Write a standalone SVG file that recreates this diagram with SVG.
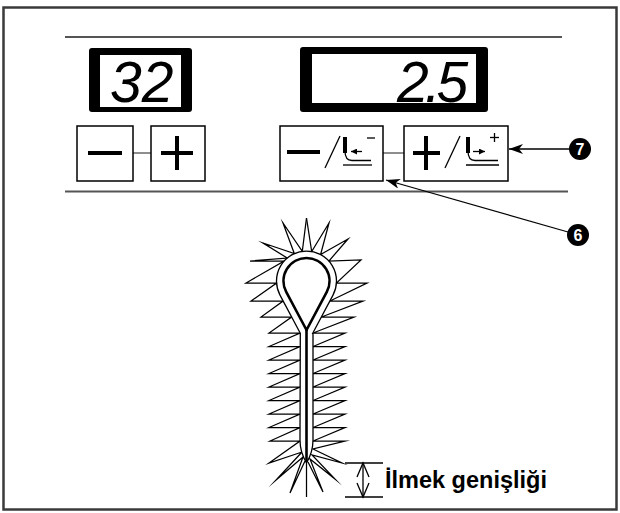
<svg xmlns="http://www.w3.org/2000/svg" width="620" height="513" viewBox="0 0 620 513">
  <defs>
    <marker id="ah" viewBox="0 0 14 10" refX="14" refY="5" markerWidth="14" markerHeight="10" markerUnits="userSpaceOnUse" orient="auto">
      <path d="M14,5 L0,0 L4,5 L0,10 Z" fill="#000"/>
    </marker>
    <marker id="ahs" viewBox="0 0 6 6" refX="6" refY="3" markerWidth="6" markerHeight="6" markerUnits="userSpaceOnUse" orient="auto">
      <path d="M6,3 L0,0 L0,6 Z" fill="#000"/>
    </marker>
  </defs>
  <style>
    .frame { fill: none; stroke: #3a3a3a; stroke-width: 2.5; }
    .rule { stroke: #555; stroke-width: 2; }
    .lcd { fill: #000; }
    .win { fill: #fff; }
    .seg { font-family: "Liberation Sans", Arial, sans-serif; font-style: italic; font-size: 57px; fill: #000; }
    .btn { fill: #fff; stroke: #000; stroke-width: 1.5; }
    .bar { stroke: #000; stroke-width: 4; stroke-linecap: butt; fill: none; }
    .thin { stroke: #000; stroke-width: 1.3; fill: none; }
    .link { stroke: #444; stroke-width: 1.2; }
    .stitch { fill: none; stroke: #000; stroke-width: 1.25; stroke-linejoin: miter; stroke-miterlimit: 20; }
    .lead { stroke: #000; stroke-width: 1.3; fill: none; }
    .badge { fill: #000; }
    .num { font-family: "Liberation Sans", Arial, sans-serif; font-weight: bold; font-size: 16px; fill: #fff; text-anchor: middle; }
    .label { font-family: "Liberation Sans", Arial, sans-serif; font-weight: bold; font-size: 23.5px; fill: #000; }
  </style>

  <rect class="frame" x="3.5" y="7.5" width="613" height="502"/>

  <!-- panel rules -->
  <line class="rule" x1="65" y1="37" x2="562" y2="37"/>
  <line class="rule" x1="65" y1="191.5" x2="568" y2="191.5"/>

  <!-- left display: pattern number -->
  <g id="display-pattern">
    <rect class="lcd" x="89" y="48" width="103" height="64" rx="3"/>
    <rect class="win" x="100" y="55" width="81" height="52"/>
    <text class="seg" x="110" y="102">32</text>
  </g>

  <!-- right display: value -->
  <g id="display-value">
    <rect class="lcd" x="300" y="47" width="188" height="65" rx="3"/>
    <rect class="win" x="312" y="54" width="164" height="49"/>
    <text class="seg" x="397" y="102" letter-spacing="-4">2.5</text>
  </g>

  <!-- connectors between keys -->
  <g id="connectors">
    <line class="link" x1="133" y1="153" x2="151" y2="153"/>
    <line class="link" x1="383" y1="153" x2="404" y2="153"/>
    <line class="lead" x1="569" y1="149" x2="509" y2="149" marker-end="url(#ah)"/>
    <line class="lead" x1="568" y1="232" x2="386" y2="180" marker-end="url(#ah)"/>
  </g>

  <!-- pattern keys -->
  <g id="key-minus">
    <rect class="btn" x="77" y="126" width="56" height="55"/>
    <line class="bar" x1="88" y1="153" x2="122" y2="153"/>
  </g>
  <g id="key-plus">
    <rect class="btn" x="151" y="126" width="54" height="55"/>
    <line class="bar" x1="161" y1="153" x2="193" y2="153"/>
    <line class="bar" x1="177" y1="136" x2="177" y2="170"/>
  </g>

  <!-- value keys -->
  <g id="key-minus-width">
    <rect class="btn" x="280" y="126" width="103" height="55"/>
    <line class="bar" x1="287" y1="152" x2="320" y2="152"/>
    <line class="thin" x1="325" y1="168" x2="340" y2="136" stroke-width="1.8"/>
    <line class="bar" x1="345" y1="137" x2="345" y2="153"/>
    <path class="thin" d="M345,151 Q345,160.5 352,160.5 L371,160.5"/>
    <line class="thin" x1="343" y1="165" x2="372" y2="165"/>
    <line class="thin" x1="362" y1="151.5" x2="351" y2="151.5" stroke-width="2.4" marker-end="url(#ahs)"/>
    <line class="thin" x1="367" y1="138" x2="375" y2="138" stroke-width="2.2"/>
  </g>
  <g id="key-plus-width">
    <rect class="btn" x="404" y="126" width="104" height="55"/>
    <line class="bar" x1="413" y1="153" x2="440" y2="153"/>
    <line class="bar" x1="426" y1="136" x2="426" y2="170"/>
    <line class="thin" x1="445" y1="168" x2="460" y2="136" stroke-width="1.8"/>
    <line class="bar" x1="468" y1="137" x2="468" y2="153"/>
    <path class="thin" d="M468,151 Q468,160.5 475,160.5 L498,160.5"/>
    <line class="thin" x1="466" y1="165" x2="499" y2="165"/>
    <line class="thin" x1="473" y1="151.5" x2="485" y2="151.5" stroke-width="2.4" marker-end="url(#ahs)"/>
    <line class="thin" x1="490" y1="137.5" x2="499" y2="137.5" stroke-width="2.2"/>
    <line class="thin" x1="494.5" y1="133" x2="494.5" y2="142" stroke-width="2.2"/>
  </g>

  <!-- callout badges -->
  <g id="badge-7">
    <circle class="badge" cx="580" cy="149" r="11"/>
    <text class="num" x="580" y="154.8">7</text>
  </g>
  <g id="badge-6">
    <circle class="badge" cx="578" cy="235" r="11"/>
    <text class="num" x="578" y="240.8">6</text>
  </g>

  <!-- keyhole buttonhole stitch -->
  <g id="buttonhole">
    <!-- stitch rows, left and right halves -->
    <polyline class="stitch" points="306.5,218 302.3,251.3 283,223 294.3,253.6 263,243 287.2,258 250,261 284.1,261 246,283 276.6,283 251,301 283.1,301 261,317 291.6,317 269,333 300,333 269,346.5 300,346.5 269,360 300,360 269,373.5 300,373.5 269,387 300,387 269,400.5 300,400.5 269,414 300,414 269,427.5 300,427.5 270,441 300,441 269,463 302,452 276,480 303,457 290,493 305,461"/>
    <polyline class="stitch" points="306.5,218 311.7,251.5 329,223 320.6,254.5 348,239 328.9,261 361,260 336.4,283 367,283 329.9,301 363,301 321.4,317 354,317 313,333 345,333 313,346.5 345,346.5 313,360 345,360 313,373.5 345,373.5 313,387 345,387 313,400.5 345,400.5 313,414 345,414 313,427.5 345,427.5 313,441 345,441 313,449 342,463 312,455 335,479 310,459 323,492 308,462"/>
    <line class="stitch" x1="306.5" y1="462" x2="306.5" y2="497" stroke-width="1.6"/>
    <!-- cut outline -->
    <path d="M300.3,333.3 L280,295.1 A30,30 0 1 1 333,295.1 L312.7,333.3 L313,333.3 L313,440 Q313,452 306.5,463 Q300,452 300,440 Z" fill="#fff" stroke="#000" stroke-width="1.3"/>
    <!-- eye and slit -->
    <path d="M306.5,330 L286.2,291.8 A23,23 0 1 1 326.8,291.8 Z" fill="#fff" stroke="#000" stroke-width="2.6" stroke-linejoin="miter"/>
    <line x1="306.5" y1="330" x2="306.5" y2="462" stroke="#000" stroke-width="2.6"/>
  </g>

  <!-- width dimension -->
  <g id="dimension">
    <line class="thin" x1="345" y1="463" x2="383" y2="463"/>
    <line class="thin" x1="345" y1="497" x2="383" y2="497"/>
    <line class="thin" x1="363" y1="463" x2="363" y2="497"/>
    <polyline class="thin" points="357,477 363,463 369,477"/>
    <polyline class="thin" points="357,483 363,497 369,483"/>
    <text class="label" x="385" y="488">İlmek genişliği</text>
  </g>
</svg>
